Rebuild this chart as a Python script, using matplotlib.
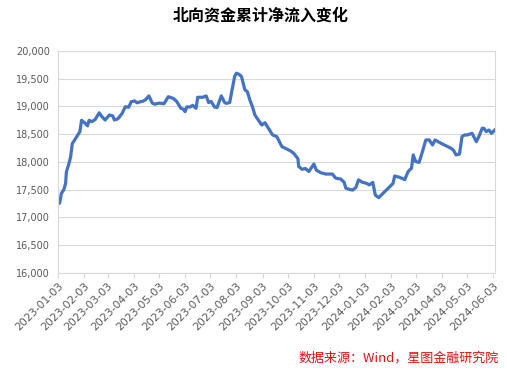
import pandas as pd
import matplotlib.pyplot as plt
import matplotlib.dates as mdates
from matplotlib.ticker import FuncFormatter

plt.rcParams['font.family'] = ['DejaVu Sans', 'Noto Sans CJK SC']

# cumulative northbound net inflow (100m CNY)
dates = [
    '2023-01-03', '2023-01-05', '2023-01-07', '2023-01-10', '2023-01-12', '2023-01-13',
    '2023-01-16', '2023-01-18', '2023-01-20', '2023-01-23', '2023-01-29', '2023-01-31',
    '2023-02-04', '2023-02-07', '2023-02-09', '2023-02-12', '2023-02-16', '2023-02-21',
    '2023-02-24', '2023-02-28', '2023-03-05', '2023-03-09', '2023-03-11', '2023-03-15',
    '2023-03-20', '2023-03-24', '2023-03-28', '2023-03-31', '2023-04-04', '2023-04-07',
    '2023-04-11', '2023-04-14', '2023-04-17', '2023-04-21', '2023-04-25', '2023-04-28',
    '2023-05-03', '2023-05-09', '2023-05-14', '2023-05-20', '2023-05-24', '2023-05-29',
    '2023-06-01', '2023-06-03', '2023-06-05', '2023-06-09', '2023-06-12', '2023-06-16',
    '2023-06-18', '2023-06-24', '2023-06-28', '2023-07-01', '2023-07-04', '2023-07-08',
    '2023-07-11', '2023-07-16', '2023-07-20', '2023-07-22', '2023-07-26', '2023-07-28',
    '2023-08-01', '2023-08-03', '2023-08-06', '2023-08-09', '2023-08-13', '2023-08-16',
    '2023-08-19', '2023-08-22', '2023-08-25', '2023-08-29', '2023-09-02', '2023-09-06',
    '2023-09-10', '2023-09-15', '2023-09-20', '2023-09-23', '2023-09-26', '2023-09-30',
    '2023-10-06', '2023-10-10', '2023-10-15', '2023-10-16', '2023-10-20', '2023-10-24',
    '2023-10-28', '2023-11-01', '2023-11-03', '2023-11-06', '2023-11-11', '2023-11-17',
    '2023-11-21', '2023-11-25', '2023-11-29', '2023-12-05', '2023-12-09', '2023-12-11',
    '2023-12-15', '2023-12-19', '2023-12-23', '2023-12-26', '2023-12-31', '2024-01-04',
    '2024-01-08', '2024-01-12', '2024-01-15', '2024-01-19', '2024-01-24', '2024-01-28',
    '2024-02-05', '2024-02-07', '2024-02-13', '2024-02-19', '2024-02-23', '2024-02-27',
    '2024-02-29', '2024-03-03', '2024-03-07', '2024-03-11', '2024-03-15', '2024-03-19',
    '2024-03-23', '2024-03-26', '2024-04-02', '2024-04-10', '2024-04-14', '2024-04-17',
    '2024-04-20', '2024-04-24', '2024-04-27', '2024-04-30', '2024-05-03', '2024-05-09',
    '2024-05-14', '2024-05-17', '2024-05-21', '2024-05-23', '2024-05-26', '2024-05-29',
    '2024-06-01', '2024-06-05',
]
values = [
    17240, 17260, 17430, 17500, 17610, 17820,
    17970, 18090, 18330, 18400, 18545, 18750,
    18700, 18650, 18750, 18725, 18760, 18885,
    18820, 18755, 18845, 18830, 18755, 18775,
    18870, 18995, 18985, 19085, 19100, 19065,
    19085, 19095, 19120, 19190, 19060, 19040,
    19060, 19050, 19175, 19145, 19090, 18965,
    18950, 18905, 18990, 18990, 19020, 18965,
    19165, 19165, 19190, 19070, 19090, 18990,
    18980, 19190, 19070, 19055, 19070, 19235,
    19550, 19600, 19580, 19540, 19300, 19265,
    19115, 18995, 18845, 18755, 18665, 18705,
    18605, 18485, 18455, 18365, 18275, 18245,
    18200, 18155, 18060, 17915, 17865, 17880,
    17825, 17915, 17960, 17850, 17805, 17780,
    17780, 17780, 17705, 17690, 17630, 17525,
    17505, 17490, 17540, 17675, 17630, 17615,
    17585, 17630, 17400, 17355, 17430, 17490,
    17610, 17745, 17720, 17680, 17825, 17885,
    18125, 18005, 17990, 18185, 18395, 18395,
    18305, 18395, 18335, 18275, 18245, 18205,
    18125, 18140, 18455, 18485, 18485, 18515,
    18365, 18455, 18605, 18605, 18545, 18575,
    18515, 18575,
]
# monthly ticks on the 3rd
tick_dates = pd.date_range('2023-01-01', '2024-06-01', freq='MS') + pd.Timedelta(days=2)

x = pd.to_datetime(dates)

fig = plt.figure(figsize=(5.07, 3.75), dpi=100)
ax = fig.add_axes([0.1144, 0.2728, 0.8616, 0.5912])

ax.plot(x, values, color='#4472C4', linewidth=2.3, solid_joinstyle='round')

ax.set_ylim(16000, 20000)
ax.set_yticks(range(16000, 20001, 500))
ax.yaxis.set_major_formatter(FuncFormatter(lambda v, p: f'{int(v):,}'))
ax.set_xlim(x[0], x[-1])
ax.set_xticks(tick_dates)
ax.xaxis.set_major_formatter(mdates.DateFormatter('%Y-%m-%d'))

ax.grid(axis='y', color='#D9D9D9', linewidth=0.8)
ax.set_axisbelow(True)
for sp in ax.spines.values():
    sp.set_color('#D9D9D9')
    sp.set_linewidth(0.8)

ax.tick_params(axis='y', length=0, labelsize=7, labelcolor='#595959', pad=6)
ax.tick_params(axis='x', length=3.5, color='#D9D9D9', labelsize=7.8, labelcolor='#595959', pad=2)
plt.setp(ax.get_xticklabels(), rotation=45, ha='right', rotation_mode='anchor')

fig.text(0.515, 0.958, '北向资金累计净流入变化', ha='center', va='center',
         fontsize=11.5, fontweight='bold', family=['Noto Sans CJK SC', 'DejaVu Sans'])
fig.text(0.983, 0.045, '数据来源：Wind，星图金融研究院', ha='right', va='center',
         fontsize=9.4, color='#E8100F', style='italic',
         family=['Noto Sans CJK SC', 'DejaVu Sans'])

fig.savefig('out.png', dpi=100)
